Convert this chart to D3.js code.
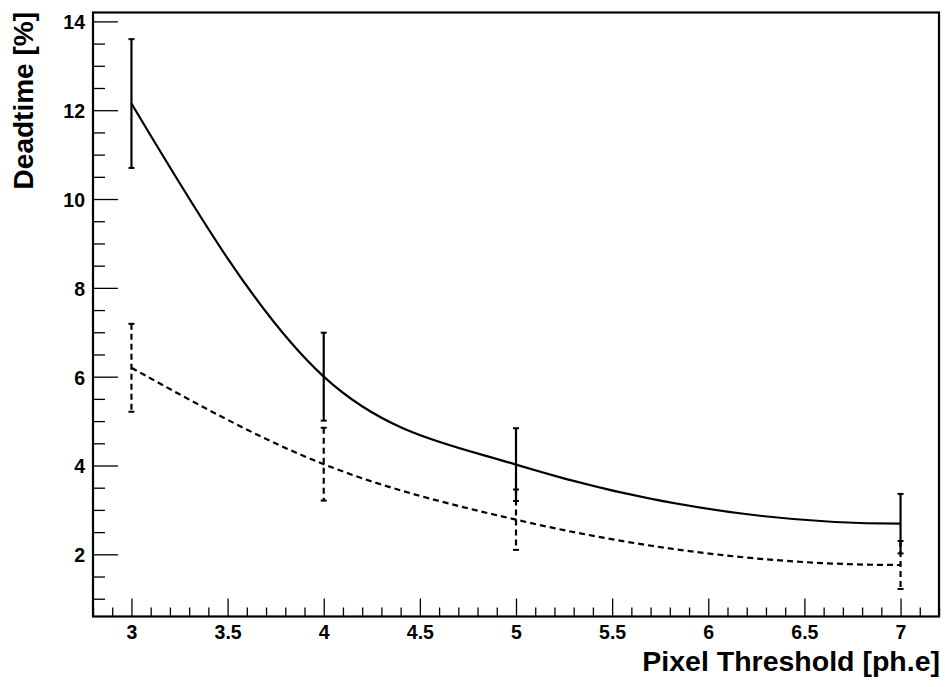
<!DOCTYPE html>
<html>
<head>
<meta charset="utf-8">
<script src="https://cdn.jsdelivr.net/npm/d3@7"></script>
<style>
  html, body { margin: 0; padding: 0; background: #fff; }
  svg { display: block; }
  text { font-family: "Liberation Sans", Arial, Helvetica, sans-serif; font-weight: bold; fill: #000; }
</style>
</head>
<body>
<svg id="chart" width="945" height="687"></svg>
<script>
// ---- data ----
const thresholds = [3, 4, 5, 7];
const deadtimeSolid = [12.15, 6.0, 4.02, 2.69];
const errorSolid = [1.45, 0.99, 0.82, 0.67];
const deadtimeDashed = [6.2, 4.03, 2.78, 1.76];
const errorDashed = [0.99, 0.82, 0.68, 0.54];
const xTickValues = [3, 3.5, 4, 4.5, 5, 5.5, 6, 6.5, 7];
const yTickValues = [2, 4, 6, 8, 10, 12, 14];
const xTitle = "Pixel Threshold [ph.e]";
const yTitle = "Deadtime [%]";

// ---- layout ----
const W = 945, H = 687;
const mLeft = 93, mRight = 939, mTop = 12.5, mBottom = 616.5;

const svg = d3.select("#chart");
svg.append("rect").attr("width", W).attr("height", H).attr("fill", "#fff");

const x = d3.scaleLinear().domain([2.8, 7.2]).range([mLeft, mRight]);
const y = d3.scaleLinear().domain([0.6, 14.2]).range([mBottom, mTop]);

// minor ticks
const xMinor = d3.range(28, 73).map(v => v / 10).filter(v => !xTickValues.some(t => Math.abs(t - v) < 1e-9));
const yMinor = d3.range(2, 29).map(v => v / 2).filter(v => v >= 0.6 && !yTickValues.includes(v));

const gxMinor = svg.append("g").attr("transform", `translate(0,${mBottom})`)
  .call(d3.axisBottom(x).tickValues(xMinor).tickSize(-9).tickFormat(""));
const gx = svg.append("g").attr("transform", `translate(0,${mBottom})`)
  .call(d3.axisBottom(x).tickValues(xTickValues).tickSize(-18).tickPadding(9)
        .tickFormat(d => String(d)));
const gyMinor = svg.append("g").attr("transform", `translate(${mLeft},0)`)
  .call(d3.axisLeft(y).tickValues(yMinor).tickSize(-12).tickFormat(""));
const gy = svg.append("g").attr("transform", `translate(${mLeft},0)`)
  .call(d3.axisLeft(y).tickValues(yTickValues).tickSize(-25).tickPadding(8)
        .tickFormat(d => String(d)));

[gxMinor, gx, gyMinor, gy].forEach(g => {
  g.select(".domain").remove();
  g.selectAll("line").attr("stroke", "#000").attr("stroke-width", 1.3);
  g.selectAll("text").style("font-size", "19.5px").attr("fill", "#000");
});
gy.selectAll("text").attr("dy", "0.38em");

// frame
svg.append("rect")
  .attr("x", mLeft).attr("y", mTop)
  .attr("width", mRight - mLeft).attr("height", mBottom - mTop)
  .attr("fill", "none").attr("stroke", "#000").attr("stroke-width", 2.2);

// smooth curve through the points: monotone tangents inside,
// flattening toward the last point (like the reference's smoothing)
function smoothCurve(context) {
  let pts = [];
  return {
    areaStart() {}, areaEnd() {},
    lineStart() { pts = []; },
    point(px, py) { pts.push([+px, +py]); },
    lineEnd() {
      const n = pts.length;
      if (!n) return;
      context.moveTo(pts[0][0], pts[0][1]);
      if (n < 2) return;
      const h = [], s = [];
      for (let i = 0; i < n - 1; i++) {
        h.push(pts[i + 1][0] - pts[i][0]);
        s.push((pts[i + 1][1] - pts[i][1]) / h[i]);
      }
      const t = new Array(n).fill(0);
      for (let i = 1; i < n - 1; i++) {
        const p = (s[i - 1] * h[i] + s[i] * h[i - 1]) / (h[i - 1] + h[i]);
        t[i] = (Math.sign(s[i - 1]) + Math.sign(s[i])) *
               Math.min(Math.abs(s[i - 1]), Math.abs(s[i]), 0.5 * Math.abs(p)) || 0;
      }
      t[0] = n > 2 ? (3 * s[0] - t[1]) / 2 : s[0];
      t[n - 1] = 0;
      for (let i = 0; i < n - 1; i++) {
        const dx = h[i] / 3;
        context.bezierCurveTo(
          pts[i][0] + dx, pts[i][1] + dx * t[i],
          pts[i + 1][0] - dx, pts[i + 1][1] - dx * t[i + 1],
          pts[i + 1][0], pts[i + 1][1]);
      }
    }
  };
}

// series
const series = [
  { ys: deadtimeSolid, es: errorSolid, dash: null },
  { ys: deadtimeDashed, es: errorDashed, dash: "6,4" }
];

const line = d3.line()
  .x(d => x(d[0])).y(d => y(d[1]))
  .curve(smoothCurve);

const plot = svg.append("g");
// draw dashed first, solid on top
[series[1], series[0]].forEach(s => {
  const pts = thresholds.map((t, i) => [t, s.ys[i], s.es[i]]);
  const g = plot.append("g");
  g.append("path")
    .attr("d", line(pts))
    .attr("fill", "none").attr("stroke", "#000").attr("stroke-width", 2.2)
    .attr("stroke-dasharray", s.dash);
  pts.forEach(p => {
    g.append("line")
      .attr("x1", x(p[0])).attr("x2", x(p[0]))
      .attr("y1", y(p[1] + p[2])).attr("y2", y(p[1] - p[2]))
      .attr("stroke", "#000").attr("stroke-width", 2.2)
      .attr("stroke-dasharray", s.dash);
    [p[1] + p[2], p[1] - p[2]].forEach(v => {
      g.append("line")
        .attr("x1", x(p[0]) - 3).attr("x2", x(p[0]) + 3)
        .attr("y1", y(v)).attr("y2", y(v))
        .attr("stroke", "#000").attr("stroke-width", 2);
    });
  });
});

// titles
svg.append("text")
  .attr("x", 940).attr("y", 671)
  .attr("text-anchor", "end")
  .style("font-size", "28.5px")
  .text(xTitle);

svg.append("text")
  .attr("transform", "translate(33,12) rotate(-90)")
  .attr("text-anchor", "end")
  .style("font-size", "28px")
  .text(yTitle);
</script>
</body>
</html>
